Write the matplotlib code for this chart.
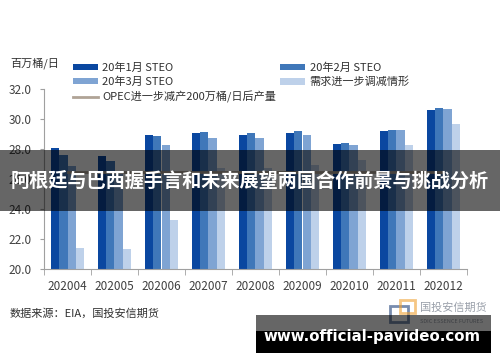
import matplotlib
matplotlib.use("Agg")
import numpy as np
import matplotlib.pyplot as plt
from matplotlib.patches import Rectangle

plt.rcParams['font.family'] = ['Noto Sans CJK SC', 'DejaVu Sans']

# data (百万桶/日)
months = ['202004', '202005', '202006', '202007', '202008', '202009', '202010', '202011', '202012']
steo_jan = [28.1, 27.55, 28.95, 29.1, 28.95, 29.07, 28.35, 29.2, 30.58]
steo_feb = [27.6, 27.2, 28.87, 29.13, 29.07, 29.18, 28.4, 29.3, 30.73]
steo_mar = [26.9, 26.5, 28.27, 28.73, 28.73, 28.95, 28.27, 29.25, 30.67]
demand_cut = [21.4, 21.33, 23.27, 26.75, 26.73, 26.95, 27.27, 28.27, 29.67]
opec_cut = [26.5] * len(months)

series = [('20年1月 STEO', steo_jan, '#0a47a0'),
          ('20年2月 STEO', steo_feb, '#3f77b9'),
          ('20年3月 STEO', steo_mar, '#7fa4d3'),
          ('需求进一步调减情形', demand_cut, '#bed1ea')]

fig = plt.figure(figsize=(5, 3.62), dpi=100)
ax = fig.add_axes([0.088, 0.257, 0.846, 0.497])

x = np.arange(len(months))
w = 0.175
bars = {}
for k, (name, vals, col) in enumerate(series):
    bars[name] = ax.bar(x + (k - 1.5) * w, vals, w, color=col, label=name, linewidth=0)
line, = ax.plot(x, opec_cut, color='#b0a396', lw=2, label='OPEC进一步减产200万桶/日后产量')

ax.set_ylim(20, 32)
ax.set_xlim(-0.5, len(months) - 0.5)
ax.set_yticks(np.arange(20, 32.1, 2))
ax.set_yticklabels(['%.1f' % v for v in np.arange(20, 32.1, 2)])
ax.set_xticks(x)
ax.set_xticklabels(months)
ax.set_xticks(np.arange(-0.5, len(months)), minor=True)
ax.tick_params(axis='x', which='major', length=0, pad=8, labelsize=8.5, labelcolor='#404040')
ax.tick_params(axis='x', which='minor', length=4, color='#a0a0a0')
ax.tick_params(axis='y', length=3, color='#a0a0a0', labelsize=8.5, labelcolor='#404040', pad=6)
for s in ['top', 'right']:
    ax.spines[s].set_visible(False)
for s in ['left', 'bottom']:
    ax.spines[s].set_color('#a0a0a0')
    ax.spines[s].set_linewidth(0.8)

# legend: column 1 = Jan, Mar, OPEC ; column 2 = Feb, demand
order = [bars['20年1月 STEO'], bars['20年3月 STEO'], line, bars['20年2月 STEO'], bars['需求进一步调减情形']]
labels = ['20年1月 STEO', '20年3月 STEO', 'OPEC进一步减产200万桶/日后产量', '20年2月 STEO', '需求进一步调减情形']
fig.legend(order, labels, ncol=2, loc='upper left', bbox_to_anchor=(0.125, 0.855),
           frameon=False, fontsize=8, handlelength=2.3, handleheight=0.5,
           labelspacing=0.35, columnspacing=0.3, handletextpad=0.4, labelcolor='#303030')

fig.text(0.02, 0.826, '百万桶/日', fontsize=8, color='#303030', va='center')
fig.text(0.02, 0.135, '数据来源：EIA，国投安信期货', fontsize=8, color='#303030', va='center')

# faint logo bottom right
fig.add_artist(Rectangle((0.78, 0.11), 0.035, 0.045, transform=fig.transFigure,
                         facecolor='none', edgecolor='#1f3f78', lw=2, alpha=0.6))
fig.add_artist(Rectangle((0.80, 0.135), 0.03, 0.035, transform=fig.transFigure,
                         facecolor='none', edgecolor='#f0a030', lw=2, alpha=0.6))
fig.text(0.84, 0.15, '国投安信期货', fontsize=8, color='#9aa0aa', va='center')
fig.text(0.84, 0.113, 'SDIC ESSENCE FUTURES', fontsize=4, color='#9aa0aa', va='center')

# overlay title banner
fig.add_artist(Rectangle((0, 1 - 211 / 362), 1, 61 / 362, transform=fig.transFigure,
                         facecolor='black', alpha=0.6, lw=0, zorder=10))
fig.text(0.5, 1 - 181 / 362, '阿根廷与巴西握手言和未来展望两国合作前景与挑战分析',
         fontsize=13.8, fontweight='bold', color='white', ha='center', va='center', zorder=11)

# bottom watermark banner
fig.add_artist(Rectangle((0.512, 1 - 353 / 362), 0.47, 38 / 362, transform=fig.transFigure,
                         facecolor='black', alpha=0.6, lw=0, zorder=10))
fig.add_artist(Rectangle((0.512, 1 - 353 / 362), 0.47, 22 / 362, transform=fig.transFigure,
                         facecolor='black', lw=0, zorder=10))
fig.text(0.745, 1 - 337 / 362, 'www.official-pavideo.com', fontsize=10.8, fontweight='bold',
         color='white', ha='center', va='center', family=['DejaVu Sans'], zorder=11)

fig.savefig('out.png', dpi=100)
